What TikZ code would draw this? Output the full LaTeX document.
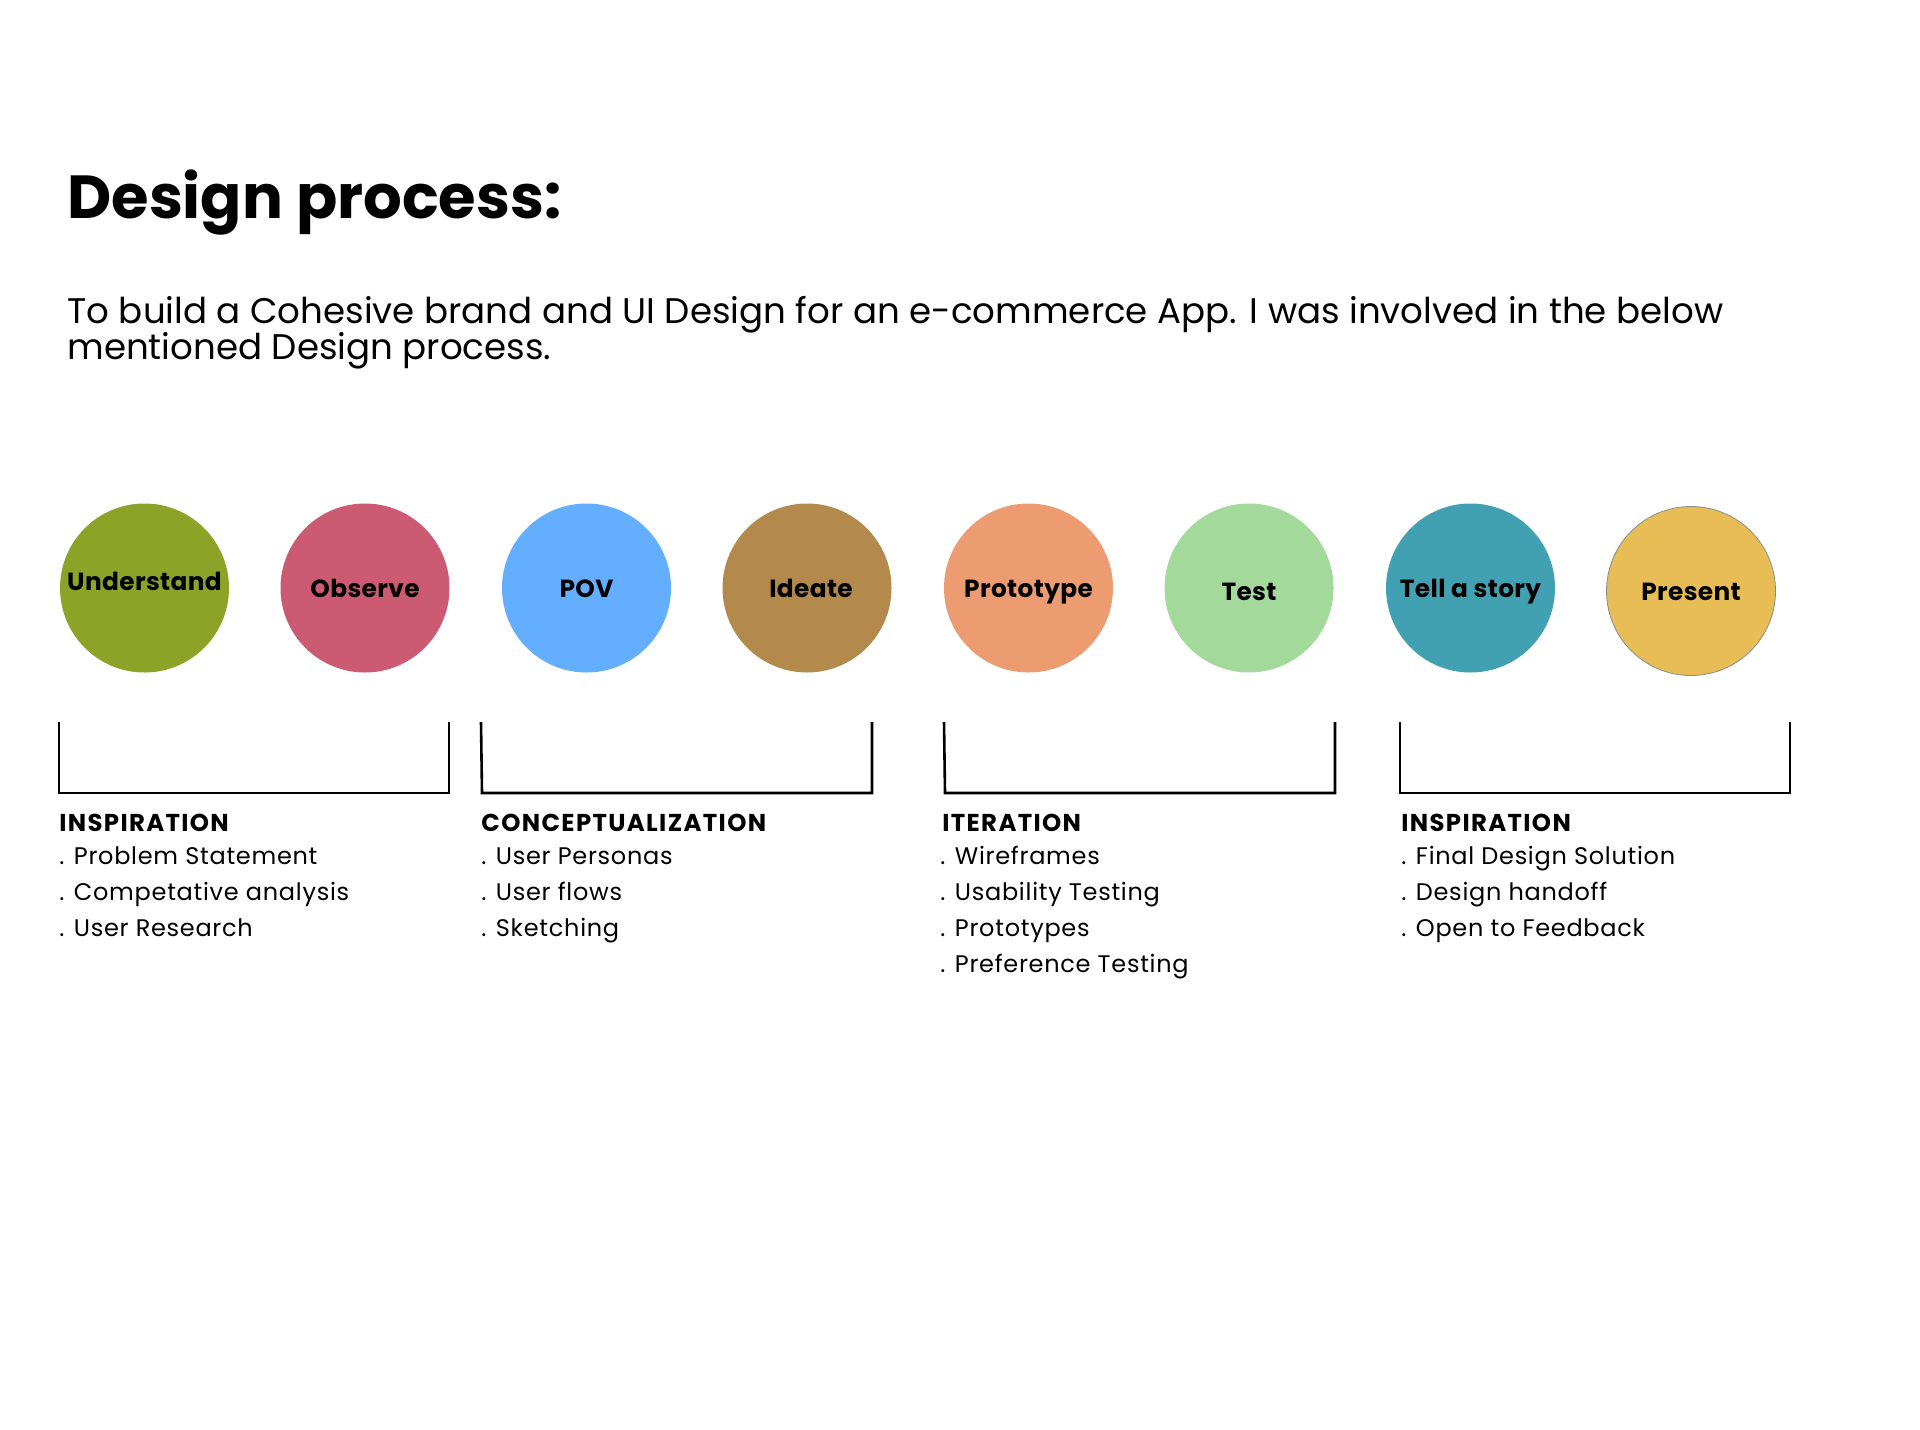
\documentclass[tikz,border=0pt]{standalone}
\usepackage{fontspec}
\setmainfont{Poppins}
\definecolor{cUnd}{HTML}{8CA328}
\definecolor{cObs}{HTML}{CC5A72}
\definecolor{cPov}{HTML}{63AEFF}
\definecolor{cIde}{HTML}{B38A4B}
\definecolor{cPro}{HTML}{EC9C70}
\definecolor{cTes}{HTML}{A3DA9C}
\definecolor{cTel}{HTML}{41A1B2}
\definecolor{cPre}{HTML}{E8BD55}
\begin{document}
\begin{tikzpicture}[x=0.5pt,y=-0.5pt,
  stage/.style={circle,minimum size=84.5pt,inner sep=0pt,draw=none},
  stagelabel/.style={anchor=base,inner sep=0pt,font=\fontsize{12.4}{14}\selectfont\bfseries\addfontfeatures{LetterSpace=1.5}},
  bracket/.style={line width=1.3pt,line join=miter},
  head/.style={anchor=base west,inner sep=0pt,font=\fontsize{12.2}{14}\selectfont\bfseries\addfontfeatures{LetterSpace=5.5}},
  item/.style={anchor=base west,inner sep=0pt,font=\fontsize{12}{14}\selectfont\addfontfeatures{LetterSpace=3}}]
\useasboundingbox[fill=white] (0,0) rectangle (1920,1429);

% heading and intro
\node[anchor=base west,inner sep=0pt,font=\fontsize{30.4}{34}\selectfont\bfseries] (title) at (67,218) {Design process:};
\node[anchor=base west,inner sep=0pt,font=\fontsize{17.8}{18}\selectfont] (intro1) at (67,323) {To build a Cohesive brand and UI Design for an e-commerce App. I was involved in the below};
\node[anchor=base west,inner sep=0pt,font=\fontsize{17.8}{18}\selectfont] (intro2) at (67,359) {mentioned Design process.};

% stage circles
\node[stage,fill=cUnd] (c1) at (144.5,588) {};
\node[stage,fill=cObs] (c2) at (365,588) {};
\node[stage,fill=cPov] (c3) at (586.5,588) {};
\node[stage,fill=cIde] (c4) at (807,588) {};
\node[stage,fill=cPro] (c5) at (1028.5,588) {};
\node[stage,fill=cTes] (c6) at (1249,588) {};
\node[stage,fill=cTel] (c7) at (1470.5,588) {};
\node[stage,fill=cPre,draw=black!45,line width=0.4pt] (c8) at (1691,591) {};

\node[stagelabel] (l1) at ([yshift=-1.3pt]c1.center) {Understand};
\node[stagelabel] (l2) at ([yshift=-4.9pt]c2.center) {Observe};
\node[stagelabel] (l3) at ([yshift=-4.9pt]c3.center) {POV};
\node[stagelabel] (l4) at ([xshift=2pt,yshift=-4.9pt]c4.center) {Ideate};
\node[stagelabel] (l5) at ([yshift=-4.9pt]c5.center) {Prototype};
\node[stagelabel] (l6) at ([yshift=-6pt]c6.center) {Test};
\node[stagelabel] (l7) at ([yshift=-4.9pt]c7.center) {Tell a story};
\node[stagelabel] (l8) at ([yshift=-4.9pt]c8.center) {Present};

% group brackets
\draw[bracket] (59,722) -- (59,793) -- (449,793) -- (449,722);
\draw[bracket] (481,722) -- (482,793) -- (872,793) -- (872,722);
\draw[bracket] (944,722) -- (945,793) -- (1335,793) -- (1335,722);
\draw[bracket] (1400,722) -- (1400,793) -- (1790,793) -- (1790,722);

% group descriptions
\node[head] (h1) at (59,831) {INSPIRATION};
\node[item] (i11) at (59,864) {. Problem Statement};
\node[item] (i12) at (59,900) {. Competative analysis};
\node[item] (i13) at (59,936) {. User Research};

\node[head] (h2) at (481,831) {CONCEPTUALIZATION};
\node[item] (i21) at (481,864) {. User Personas};
\node[item] (i22) at (481,900) {. User flows};
\node[item] (i23) at (481,936) {. Sketching};

\node[head] (h3) at (942,831) {ITERATION};
\node[item] (i31) at (940,864) {. Wireframes};
\node[item] (i32) at (940,900) {. Usability Testing};
\node[item] (i33) at (940,936) {. Prototypes};
\node[item] (i34) at (940,972) {. Preference Testing};

\node[head] (h4) at (1401,831) {INSPIRATION};
\node[item] (i41) at (1401,864) {. Final Design Solution};
\node[item] (i42) at (1401,900) {. Design handoff};
\node[item] (i43) at (1401,936) {. Open to Feedback};
\end{tikzpicture}
\end{document}
